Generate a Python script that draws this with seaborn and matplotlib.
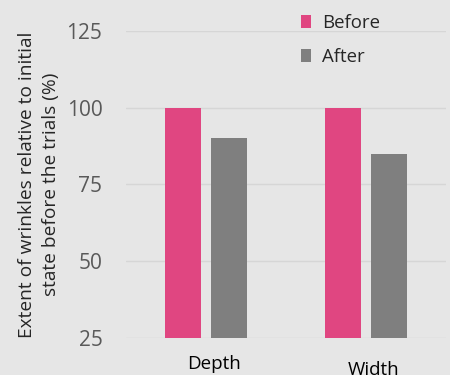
import matplotlib
matplotlib.use("Agg")
import matplotlib.pyplot as plt
import matplotlib.transforms as mtransforms
import seaborn as sns
import pandas as pd

categories = ["Depth", "Width"]
series_names = ["Before", "After"]
before_values = [100, 100]
after_values = [90, 85]
y_ticks = [25, 50, 75, 100, 125]
y_label = "Extent of wrinkles relative to initial\nstate before the trials (%)"

df = pd.DataFrame({
    "category": categories * 2,
    "series": [series_names[0]] * 2 + [series_names[1]] * 2,
    "value": before_values + after_values,
})

sns.set_theme(style="white")
plt.rcParams["font.family"] = ["Open Sans", "DejaVu Sans"]

bg = "#E6E6E6"
fig = plt.figure(figsize=(4.5, 3.75), dpi=100, facecolor=bg)
ax = fig.add_axes([126/450, 1 - 338/375, 320/450, 307/375])
ax.set_facecolor(bg)

palette = {"Before": "#E04681", "After": "#7F7F7F"}
sns.barplot(data=df, x="category", y="value", hue="series", order=categories,
            hue_order=series_names, palette=palette, width=0.57, gap=0.22,
            saturation=1, linewidth=0, ax=ax, zorder=3)

ax.set_ylim(25, 125)
ax.set_xlim(-0.5, 1.5)
ax.set_yticks(y_ticks)
ax.grid(axis="y", color="#D6D6D6", linewidth=1.0, zorder=0)
ax.set_axisbelow(True)
for s in ax.spines.values():
    s.set_visible(False)
ax.tick_params(axis="y", length=0, pad=17, labelsize=15, labelcolor="#595959")
ax.tick_params(axis="x", length=0, pad=12, labelsize=13.5, labelcolor="black")
ax.set_xlabel("")
ax.set_ylabel(y_label, fontsize=13.8, color="#262626", linespacing=1.4, labelpad=5)

# x labels sit slightly right of the groups; the second one also lower
lbls = ax.get_xticklabels()
lbls[0].set_transform(lbls[0].get_transform() +
                      mtransforms.ScaledTranslation(8/100, 0, fig.dpi_scale_trans))
lbls[1].set_transform(lbls[1].get_transform() +
                      mtransforms.ScaledTranslation(8/100, -6/100, fig.dpi_scale_trans))

handles, labels = ax.get_legend_handles_labels()
ax.legend(handles, labels, loc="upper left", bbox_to_anchor=(284/450, 1 + 3/375),
          bbox_transform=fig.transFigure, frameon=False, fontsize=13.4,
          handlelength=0.55, handleheight=0.7, handletextpad=0.6, labelspacing=0.85)
ax.get_legend().set_clip_on(False)

fig.savefig("out.png", dpi=100, facecolor=bg)
